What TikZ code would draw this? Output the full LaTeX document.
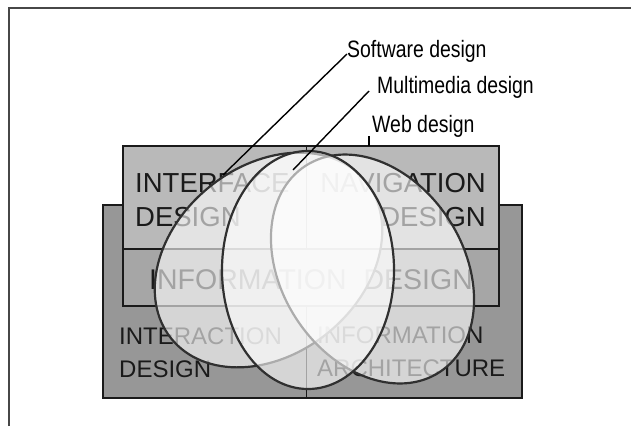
\documentclass[tikz,border=0pt]{standalone}
\usepackage{fontspec}
\setmainfont{Liberation Sans}
\newfontfamily\lblfont[FakeStretch=0.82]{Liberation Sans}
\usetikzlibrary{shapes.geometric}
\definecolor{framegray}{HTML}{474747}
\definecolor{topfill}{HTML}{B9B9B9}
\definecolor{bandfill}{HTML}{A6A6A6}
\definecolor{lowfill}{HTML}{979797}
\definecolor{inkdark}{HTML}{1A1A1A}
\definecolor{vennline}{HTML}{303030}
\tikzset{
  areabox/.style={draw=inkdark, line width=1.5pt, inner sep=0pt, outer sep=0pt},
  bigtext/.style={inner sep=0pt, text=inkdark, font=\fontsize{27.5}{30}\selectfont},
  midtext/.style={inner sep=0pt, text=inkdark, font=\fontsize{24}{26}\selectfont},
  lbltext/.style={inner sep=0pt, text=black, font=\lblfont\fontsize{23.7}{26}\selectfont},
  venn/.style={ellipse, draw=vennline, line width=2.2pt, fill=white, fill opacity=0.6, inner sep=0pt, outer sep=0pt},
  leader/.style={draw=black, line width=1.4pt},
  divider/.style={draw=inkdark, line width=1.3pt}
}
\begin{document}
\begin{tikzpicture}[x=1pt,y=-1pt]
\useasboundingbox (0,0) rectangle (631,426);
\fill[white] (0,0) rectangle (631,426);
% frame
\draw[framegray, line width=2pt] (8.5,426) -- (8.5,8) -- (631,8);
% rectangles
\node[areabox, fill=lowfill, minimum width=419pt, minimum height=193pt] (lower) at (312.5,301.5) {};
\node[areabox, fill=topfill, minimum width=376pt, minimum height=103pt] (upper) at (311,197.5) {};
\node[areabox, fill=bandfill, minimum width=376pt, minimum height=57pt] (band) at (311,277.5) {};
\draw[divider] (306.5,146) -- (306.5,249);
\draw[divider] (306.5,306) -- (306.5,398);
% area texts
\node[bigtext, anchor=base west] (t1) at (135,192) {INTERFACE};
\node[bigtext, anchor=base west] (t2) at (135,226) {DESIGN};
\node[bigtext, anchor=base east] (t3) at (486,192) {NAVIGATION};
\node[bigtext, anchor=base east] (t4) at (486,226) {DESIGN};
\node[inner sep=0pt, text=inkdark, font=\fontsize{28.5}{30}\selectfont, anchor=base west] (t5) at (149,289) {INFORMATION\hspace{17pt}DESIGN};
\node[midtext, anchor=base west] (t6) at (119,344) {INTERACTION};
\node[midtext, anchor=base west] (t7) at (119,377) {DESIGN};
\node[midtext, anchor=base west] (t8) at (317,343) {INFORMATION};
\node[midtext, anchor=base west] (t9) at (317,376) {ARCHITECTURE};
% ellipses
\node[venn, minimum width=250pt, minimum height=188pt, rotate=39] (soft) at (268.5,260) {};
\node[venn, minimum width=246pt, minimum height=182pt, rotate=-57] (webe) at (372.5,269) {};
\node[venn, minimum width=172pt, minimum height=238pt] (multi) at (308,270) {};
% labels
\node[lbltext, anchor=base west] (swl) at (347,57) {Software design};
\node[lbltext, anchor=base west] (mml) at (377,93) {Multimedia design};
\node[lbltext, anchor=base west] (wbl) at (372,132) {Web design};
\coordinate (swend) at (223,175);
\coordinate (mmend) at (293,170);
\draw[leader] ([shift={(0,-3)}]swl.base west) -- (swend);
\draw[leader] ([shift={(-8,-2)}]mml.base west) -- (mmend);
\draw[leader, line width=2.4pt] ([shift={(-3,4)}]wbl.base west) -- ([shift={(-3,0)}]wbl.base west |- upper.north);
\end{tikzpicture}
\end{document}
